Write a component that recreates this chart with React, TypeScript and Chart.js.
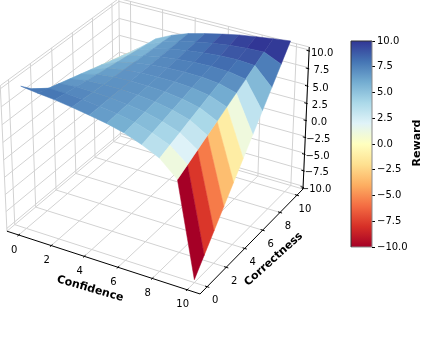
import React, { useEffect, useRef } from "react";
import { Chart, registerables } from "chart.js";

Chart.register(...registerables);

const confidenceTicks = [0, 2, 4, 6, 8, 10];
const correctnessTicks = [0, 2, 4, 6, 8, 10];
const rewardTicks = [-10, -7.5, -5, -2.5, 0, 2.5, 5, 7.5, 10];
const gridX = [0, 1, 2, 3, 4, 5, 6, 7, 8, 9, 10];
const gridY = [0, 1, 2, 3, 4, 5, 6, 7, 8, 9, 10];

// reward[confidence][correctness]
const reward0 = [10, 8.5, 7.0, 5.6, 4.2, 2.9, 1.6, 0.3, -1.0, -2.3, -3.6];
const reward1 = [9.7, 9.23, 8.76, 8.29, 7.82, 7.35, 6.88, 6.41, 5.94, 5.47, 5.0];
const reward2 = [9.45, 9.2, 8.95, 8.7, 8.45, 8.2, 7.95, 7.7, 7.45, 7.2, 6.95];
const reward3 = [9.1, 9.0, 8.9, 8.8, 8.7, 8.6, 8.5, 8.4, 8.3, 8.2, 8.1];
const reward4 = [8.7, 8.73, 8.75, 8.78, 8.8, 8.83, 8.85, 8.88, 8.9, 8.93, 8.95];
const reward5 = [8.25, 8.38, 8.51, 8.64, 8.77, 8.9, 9.03, 9.16, 9.29, 9.42, 9.55];
const reward6 = [7.65, 7.9, 8.14, 8.39, 8.63, 8.88, 9.12, 9.37, 9.61, 9.86, 10.1];
const reward7 = [6.75, 7.14, 7.52, 7.91, 8.29, 8.68, 9.06, 9.45, 9.83, 10.22, 10.6];
const reward8 = [5.6, 6.14, 6.67, 7.21, 7.74, 8.28, 8.81, 9.35, 9.88, 10.42, 10.95];
const reward9 = [3.4, 4.19, 4.98, 5.77, 6.56, 7.35, 8.14, 8.93, 9.72, 10.51, 11.3];
const reward10 = [-10, -7.84, -5.68, -3.52, -1.36, 0.8, 2.96, 5.12, 7.28, 9.44, 11.6];
const rewardTable = [reward0, reward1, reward2, reward3, reward4, reward5, reward6, reward7, reward8, reward9, reward10];

const colorStops = ["#a50026", "#d73027", "#f46d43", "#fdae61", "#fee090", "#ffffbf", "#e0f3f8", "#abd9e9", "#74add1", "#4575b4", "#313695"];
const colorbarRange: [number, number] = [-10, 10];

const WIDTH = 422;
const HEIGHT = 338;
const FONT = "'DejaVu Sans'";
const xLim = [-0.73, 10.73];
const yLim = [-0.73, 10.73];
const zLim = [-10.42, 10.42];

type P = { x: number; y: number };
type Depth = P & { d: number };

// matplotlib-like perspective view (elev 30, azim -60)
function project(x: number, y: number, z: number): Depth {
  const X = (x - 5) * 0.09974;
  const Y = (y - 5) * 0.09974;
  const Z = z * 0.04113;
  const u = 0.866 * X + 0.5 * Y;
  const v = -0.25 * X + 0.433 * Y + 0.866 * Z;
  const n = 0.433 * X - 0.75 * Y + 0.5 * Z;
  const d = 10 - n;
  return { x: 157.6 + (1936 * u) / d, y: HEIGHT - (139.4 - (1936 * v) / d), d };
}

function hexToRgb(h: string) {
  return [parseInt(h.slice(1, 3), 16), parseInt(h.slice(3, 5), 16), parseInt(h.slice(5, 7), 16)];
}

function cmap(t: number) {
  const c = Math.max(0, Math.min(1, t)) * (colorStops.length - 1);
  const i = Math.min(colorStops.length - 2, Math.floor(c));
  const f = c - i;
  const a = hexToRgb(colorStops[i]);
  const b = hexToRgb(colorStops[i + 1]);
  return `rgb(${a.map((v, k) => Math.round(v + (b[k] - v) * f)).join(",")})`;
}

function lineSet(points: P[], color: string, width: number, order: number) {
  return {
    type: "line" as const,
    data: points.map((p) => ({ x: p.x, y: p.y })),
    borderColor: color,
    borderWidth: width,
    pointRadius: 0,
    fill: false,
    tension: 0,
    order,
  };
}

function buildDatasets() {
  const sets: any[] = [];
  const GRID = "#d2d2d2";
  const line3 = (a: number[], b: number[], color: string, w: number, order: number) =>
    sets.push(lineSet([project(a[0], a[1], a[2]), project(b[0], b[1], b[2])], color, w, order));
  const [x0, x1] = xLim;
  const [y0, y1] = yLim;
  const [z0, z1] = zLim;

  // panes
  const edges = [
    [[x0, y1, z0], [x1, y1, z0]], [[x0, y0, z0], [x0, y1, z0]],
    [[x0, y0, z1], [x0, y1, z1]], [[x0, y1, z1], [x1, y1, z1]],
    [[x0, y0, z0], [x0, y0, z1]], [[x0, y1, z0], [x0, y1, z1]], [[x1, y1, z0], [x1, y1, z1]],
  ];
  edges.forEach((e) => line3(e[0], e[1], GRID, 1, 2000));

  // grid
  confidenceTicks.forEach((t) => {
    line3([t, y0, z0], [t, y1, z0], GRID, 1, 2000);
    line3([t, y1, z0], [t, y1, z1], GRID, 1, 2000);
  });
  correctnessTicks.forEach((t) => {
    line3([x0, t, z0], [x1, t, z0], GRID, 1, 2000);
    line3([x0, t, z0], [x0, t, z1], GRID, 1, 2000);
  });
  rewardTicks.forEach((t) => {
    line3([x0, y0, t], [x0, y1, t], GRID, 1, 2000);
    line3([x0, y1, t], [x1, y1, t], GRID, 1, 2000);
  });

  // surface faces
  const faces: { pts: Depth[]; avg: number; depth: number }[] = [];
  for (let i = 0; i < gridX.length - 1; i++) {
    for (let j = 0; j < gridY.length - 1; j++) {
      const corners: [number, number][] = [[i, j], [i + 1, j], [i + 1, j + 1], [i, j + 1]];
      const pts = corners.map(([a, b]) => project(gridX[a], gridY[b], rewardTable[a][b]));
      const avg = corners.reduce((s, [a, b]) => s + rewardTable[a][b], 0) / 4;
      const depth = pts.reduce((s, p) => s + p.d, 0) / 4;
      faces.push({ pts, avg, depth });
    }
  }
  const lo = Math.min(...faces.map((f) => f.avg));
  const hi = Math.max(...faces.map((f) => f.avg));
  faces.sort((a, b) => b.depth - a.depth);
  faces.forEach((f, k) => {
    const color = cmap((f.avg - lo) / (hi - lo));
    sets.push({
      type: "line" as const,
      data: [...f.pts, f.pts[0]].map((p) => ({ x: p.x, y: p.y })),
      borderColor: color,
      backgroundColor: color,
      borderWidth: 0.5,
      pointRadius: 0,
      fill: "shape",
      tension: 0,
      order: 1000 - k,
    });
  });

  // axes
  const AX = "#000000";
  line3([x0, y0, z0], [x1, y0, z0], AX, 1, 1);
  line3([x1, y0, z0], [x1, y1, z0], AX, 1, 1);
  line3([x1, y1, z0], [x1, y1, z1], AX, 1, 1);
  confidenceTicks.forEach((t) => line3([t, y0 + 0.12, z0], [t, y0 - 0.12, z0], AX, 1, 1));
  correctnessTicks.forEach((t) => line3([x1 - 0.12, t, z0], [x1 + 0.12, t, z0], AX, 1, 1));
  rewardTicks.forEach((t) => line3([x1 - 0.1, y1 - 0.1, t], [x1 + 0.1, y1 - 0.1, t], AX, 1, 1));
  return sets;
}

const fmt = (v: number, digits: number) => (v < 0 ? "\u2212" : "") + Math.abs(v).toFixed(digits);

const labelsPlugin = {
  id: "labels3d",
  afterDatasetsDraw(chart: any) {
    const { ctx, scales } = chart;
    const px = (p: P) => [scales.x.getPixelForValue(p.x), scales.y.getPixelForValue(p.y)];
    const text = (s: string, x: number, y: number, font: string, angle = 0) => {
      ctx.save();
      ctx.translate(x, y);
      ctx.rotate((angle * Math.PI) / 180);
      ctx.font = font;
      ctx.fillStyle = "#000";
      ctx.textAlign = "center";
      ctx.textBaseline = "middle";
      ctx.fillText(s, 0, 0);
      ctx.restore();
    };
    const tickFont = `10px ${FONT}`;
    confidenceTicks.forEach((t) => {
      const [x, y] = px(project(t, yLim[0], zLim[0]));
      text(String(t), x - 4.5, y + 15, tickFont);
    });
    correctnessTicks.forEach((t) => {
      const [x, y] = px(project(xLim[1], t, zLim[0]));
      text(String(t), x + 8, y + 14, tickFont);
    });
    rewardTicks.forEach((t) => {
      const [x, y] = px(project(xLim[1], yLim[1], t));
      text(fmt(t, 1), x + 13, y + 3, tickFont);
    });
    const boldFont = `bold 11px ${FONT}`;
    const [cx, cy] = px(project(5, yLim[0], zLim[0]));
    text("Confidence", cx - 11, cy + 27, boldFont, 16);
    const [rx, ry] = px(project(xLim[1], 5, zLim[0]));
    text("Correctness", rx + 20, ry + 20, boldFont, -42);
  },
};

const colorbarPlugin = {
  id: "colorbarFrame",
  afterDatasetsDraw(chart: any) {
    const { ctx, chartArea: a } = chart;
    ctx.save();
    ctx.lineWidth = 1;
    ctx.strokeStyle = "#8a8a8a";
    ctx.beginPath();
    ctx.moveTo(a.right, a.top);
    ctx.lineTo(a.right, a.bottom);
    ctx.lineTo(a.left, a.bottom);
    ctx.stroke();
    ctx.strokeStyle = "#333333";
    ctx.beginPath();
    ctx.moveTo(a.left, a.bottom);
    ctx.lineTo(a.left, a.top);
    ctx.lineTo(a.right, a.top);
    ctx.stroke();
    ctx.translate(77, 143);
    ctx.rotate(-Math.PI / 2);
    ctx.font = `bold 11px ${FONT}`;
    ctx.fillStyle = "#000";
    ctx.textAlign = "center";
    ctx.textBaseline = "middle";
    ctx.fillText("Reward", 0, 0);
    ctx.restore();
  },
};

export default function App() {
  const mainRef = useRef<HTMLCanvasElement>(null);
  const barRef = useRef<HTMLCanvasElement>(null);

  useEffect(() => {
    const main = new Chart(mainRef.current as HTMLCanvasElement, {
      type: "line",
      data: { datasets: buildDatasets() },
      plugins: [labelsPlugin],
      options: {
        animation: false,
        responsive: false,
        devicePixelRatio: 1,
        layout: { padding: 0 },
        plugins: { legend: { display: false }, tooltip: { enabled: false } },
        scales: {
          x: { type: "linear", min: 0, max: WIDTH, display: false },
          y: { type: "linear", min: 0, max: HEIGHT, display: false },
        },
      },
    } as any);

    const bar = new Chart(barRef.current as HTMLCanvasElement, {
      type: "bar",
      data: {
        labels: ["Reward"],
        datasets: [
          {
            data: [colorbarRange],
            barPercentage: 1,
            categoryPercentage: 1,
            borderWidth: 0,
            backgroundColor: (c: any) => {
              const area = c.chart.chartArea;
              if (!area) return colorStops[5];
              const g = c.chart.ctx.createLinearGradient(0, area.bottom, 0, area.top);
              colorStops.forEach((s, i) => g.addColorStop(i / (colorStops.length - 1), s));
              return g;
            },
          },
        ],
      },
      plugins: [colorbarPlugin],
      options: {
        animation: false,
        responsive: false,
        devicePixelRatio: 1,
        layout: { padding: { left: 11, top: 41, bottom: 91, right: 0 } },
        plugins: { legend: { display: false }, tooltip: { enabled: false } },
        scales: {
          x: { display: false },
          y: {
            position: "right",
            min: colorbarRange[0],
            max: colorbarRange[1],
            afterFit: (s: any) => {
              s.width = 50;
            },
            afterBuildTicks: (s: any) => {
              s.ticks = rewardTicks.map((value) => ({ value }));
            },
            grid: { drawOnChartArea: false, tickLength: 3, tickColor: "#000", drawTicks: true },
            border: { display: false },
            ticks: {
              color: "#000",
              padding: 2,
              font: { family: FONT, size: 10 },
              callback: (v: number) => fmt(Number(v), 1),
            },
          },
        },
      },
    } as any);

    return () => {
      main.destroy();
      bar.destroy();
    };
  }, []);

  return (
    <div style={{ position: "absolute", left: 0, top: 0, width: WIDTH, height: HEIGHT, background: "#fff", overflow: "hidden" }}>
      <canvas ref={mainRef} width={WIDTH} height={HEIGHT} style={{ position: "absolute", left: 0, top: 0 }} />
      <canvas ref={barRef} width={82} height={HEIGHT} style={{ position: "absolute", left: 340, top: 0 }} />
    </div>
  );
}
